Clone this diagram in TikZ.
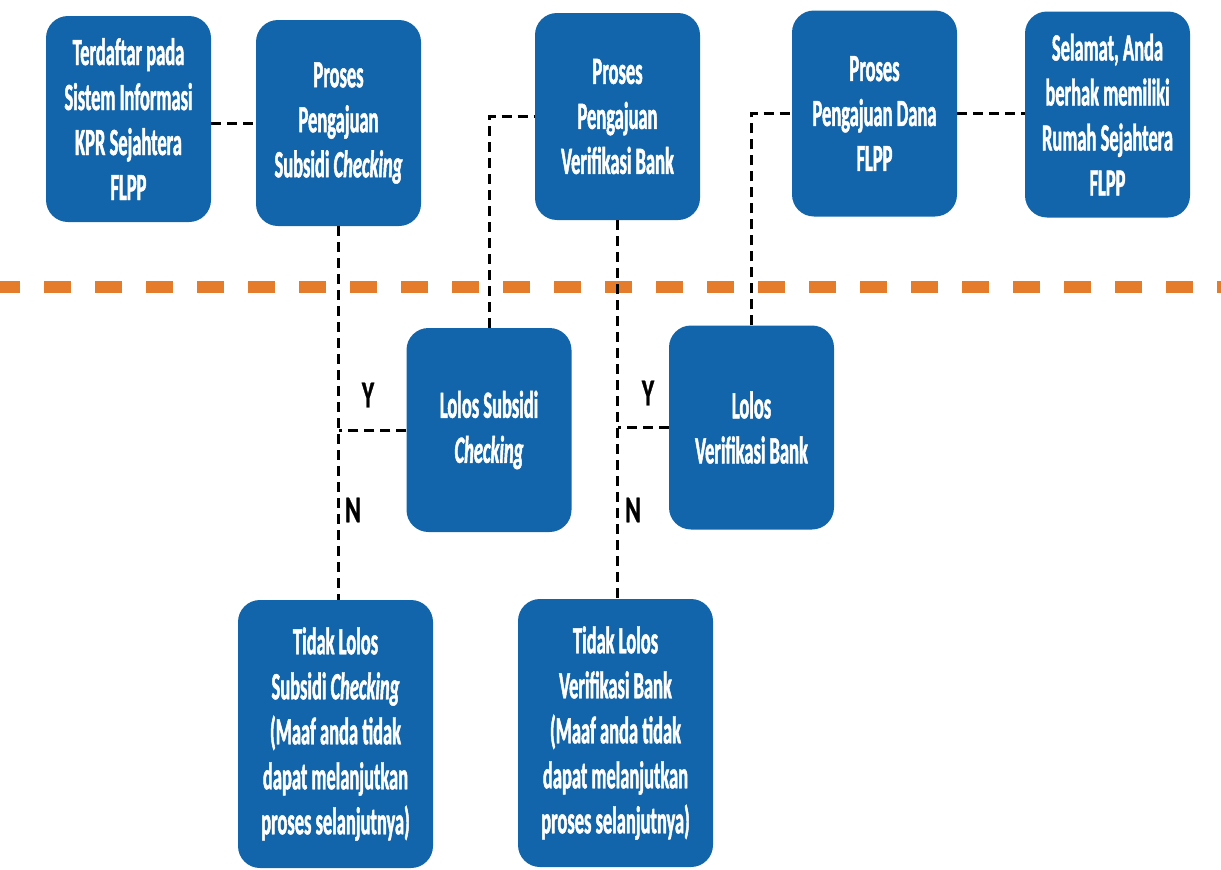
\documentclass[tikz,border=0pt]{standalone}
\usepackage{fontspec}
\newfontfamily\boxfont[FakeStretch=0.48, BoldFeatures={FakeBold=1.2}, BoldItalicFeatures={FakeBold=1.2}]{Carlito}
\newfontfamily\tagfont[FakeStretch=0.62, BoldFeatures={FakeBold=0.8}]{Carlito}
\usetikzlibrary{positioning}
\definecolor{boxblue}{RGB}{18,101,170}
\definecolor{lineorange}{RGB}{228,124,44}

\begin{document}
\begin{tikzpicture}[
        x=1pt, y=-1pt,
        process/.style={rectangle, fill=boxblue, rounded corners=22pt, minimum width=165pt, minimum height=206pt, inner sep=0pt, align=center, text=white, font=\boxfont\bfseries\fontsize{38.5}{45}\selectfont},
        result/.style={process, minimum width=195pt, minimum height=268pt},
        answer/.style={text=black, font=\tagfont\bfseries\fontsize{38}{40}\selectfont},
        link/.style={draw=black, line width=3pt, dash pattern=on 10pt off 6pt},
        divider/.style={draw=lineorange, line width=12pt, dash pattern=on 27pt off 24pt}
    ]
        \useasboundingbox (0,0) rectangle (1221,870);
        \draw[divider] (-7,287) -- (1240,287);
        \node[process] (daftar) at (128.5,119) {Terdaftar pada\\Sistem Informasi\\KPR Sejahtera\\FLPP};
        \node[process, minimum height=206pt] (ajuSub) at (338.5,123) {Proses\\Pengajuan\\Subsidi \textit{Checking}};
        \node[process, minimum height=207pt] (ajuBank) at (617.5,116.5) {Proses\\Pengajuan\\Verifikasi Bank};
        \node[process] (ajuDana) at (874.5,113.5) {Proses\\Pengajuan Dana\\FLPP};
        \node[process] (selamat) at (1107.5,114.5) {Selamat, Anda\\berhak memiliki\\Rumah Sejahtera\\FLPP};
        \node[process, minimum height=204pt] (lolosSub) at (489,430) {Lolos Subsidi\\\textit{Checking}};
        \node[process, minimum height=204pt] (lolosBank) at (751.5,427.5) {Lolos\\Verifikasi Bank};
        \node[result] (gagalSub) at (335.5,734) {Tidak Lolos\\Subsidi \textit{Checking}\\(Maaf anda tidak\\dapat melanjutkan\\proses selanjutnya)};
        \node[result] (gagalBank) at (615.5,733) {Tidak Lolos\\Verifikasi Bank\\(Maaf anda tidak\\dapat melanjutkan\\proses selanjutnya)};
        \node[answer] (ySub) at (368,395) {Y};
        \node[answer] (nSub) at (353,510) {N};
        \node[answer] (yBank) at (648,393) {Y};
        \node[answer] (nBank) at (633,510) {N};
        \draw[link] (ajuSub.west -| daftar.east) -- (ajuSub.west);
        \draw[link] (ajuSub.south) -- (ajuSub.south |- gagalSub.north);
        \draw[link] (lolosSub.west) -- (lolosSub.west -| ajuSub.south);
        \draw[link] (lolosSub.north) |- (ajuBank.west);
        \draw[link] (ajuBank.south) -- (ajuBank.south |- gagalBank.north);
        \draw[link] (lolosBank.west) -- (lolosBank.west -| ajuBank.south);
        \draw[link] (lolosBank.north) |- (ajuDana.west);
        \draw[link] (ajuDana.east) -- (ajuDana.east -| selamat.west);
    \end{tikzpicture}
\end{document}
